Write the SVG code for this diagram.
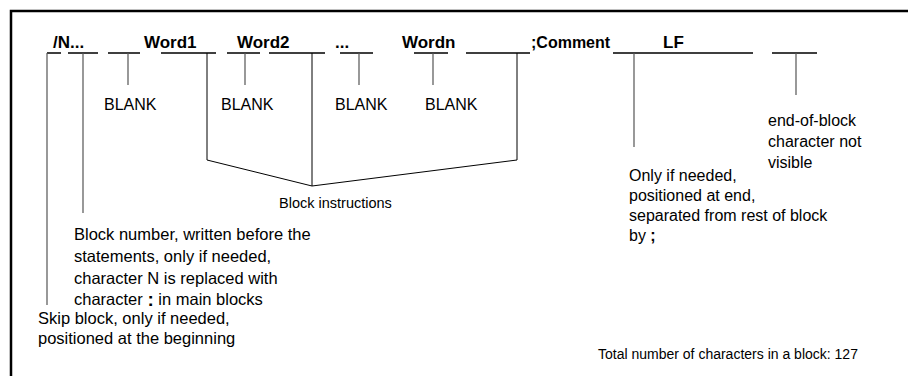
<svg xmlns="http://www.w3.org/2000/svg" width="908" height="376" viewBox="0 0 908 376">
<style>
text{font-family:"Liberation Sans",Arial,sans-serif;fill:#000}
.h{font-weight:bold;font-size:17px}
.t{font-size:16px}
.s{font-size:14.5px}
.l{font-size:16.5px}
.ul{stroke:#000;stroke-width:1.5;fill:none}
.tk{stroke:#555;stroke-width:1.2;fill:none}
.bi{stroke:#000;stroke-width:1;fill:none}
</style>
<rect width="908" height="376" fill="#fff"/>
<g id="frame" stroke="#000" stroke-width="2.5" fill="none">
<path d="M11 376V11H908"/>
</g>
<g id="header">
<text class="h" x="53" y="48">/N...</text>
<text class="h" x="144" y="48">Word1</text>
<text class="h" x="237" y="48">Word2</text>
<text class="h" x="335" y="48">...</text>
<text class="h" x="402" y="48">Wordn</text>
<text class="h" x="531" y="48" style="font-size:16px">;Comment</text>
<text class="h" x="663" y="48">LF</text>
</g>
<g id="connectors">
<path class="ul" d="M47 53H61M68 53H98M108 53H140M161 53H216M227 53H260M269 53H325M340 53H373M414 53H448M466 53H530M613 53H753M772 53H817"/>
<path class="tk" d="M47 53V305M83 53V213M128 53V85M245 53V85M359 53V85M433 53V85M634 53V147M796 53V95"/>
<path class="bi" d="M207 53V160L312 186L517 160V53M312 53V186"/>
</g>
<g id="blank1"><text class="t" x="104" y="110">BLANK</text></g>
<g id="blank2"><text class="t" x="221" y="110">BLANK</text></g>
<g id="blank3"><text class="t" x="335" y="110">BLANK</text></g>
<g id="blank4"><text class="t" x="425" y="110">BLANK</text></g>
<g id="block-instructions"><text class="s" x="279" y="208">Block instructions</text></g>
<g id="comment-note">
<text class="t" x="629" y="181">Only if needed,</text>
<text class="t" x="629" y="201">positioned at end,</text>
<text class="t" x="629" y="221">separated from rest of block</text>
<text class="t" x="629" y="241">by <tspan font-weight="bold">;</tspan></text>
</g>
<g id="eob-note">
<text class="t" x="768" y="126">end-of-block</text>
<text class="t" x="768" y="147">character not</text>
<text class="t" x="768" y="168">visible</text>
</g>
<g id="block-number-note">
<text class="l" x="74" y="240">Block number, written before the</text>
<text class="l" x="74" y="262">statements, only if needed,</text>
<text class="l" x="74" y="284">character N is replaced with</text>
<text class="l" x="74" y="305">character <tspan font-weight="bold" font-size="19" dy="1">:</tspan><tspan dy="-1"> in main blocks</tspan></text>
</g>
<g id="skip-note">
<text class="l" x="38" y="324">Skip block, only if needed,</text>
<text class="l" x="38" y="344">positioned at the beginning</text>
</g>
<g id="total-note">
<text class="t" x="598" y="359" style="font-size:14px">Total number of characters in a block: 127</text>
</g>
</svg>
